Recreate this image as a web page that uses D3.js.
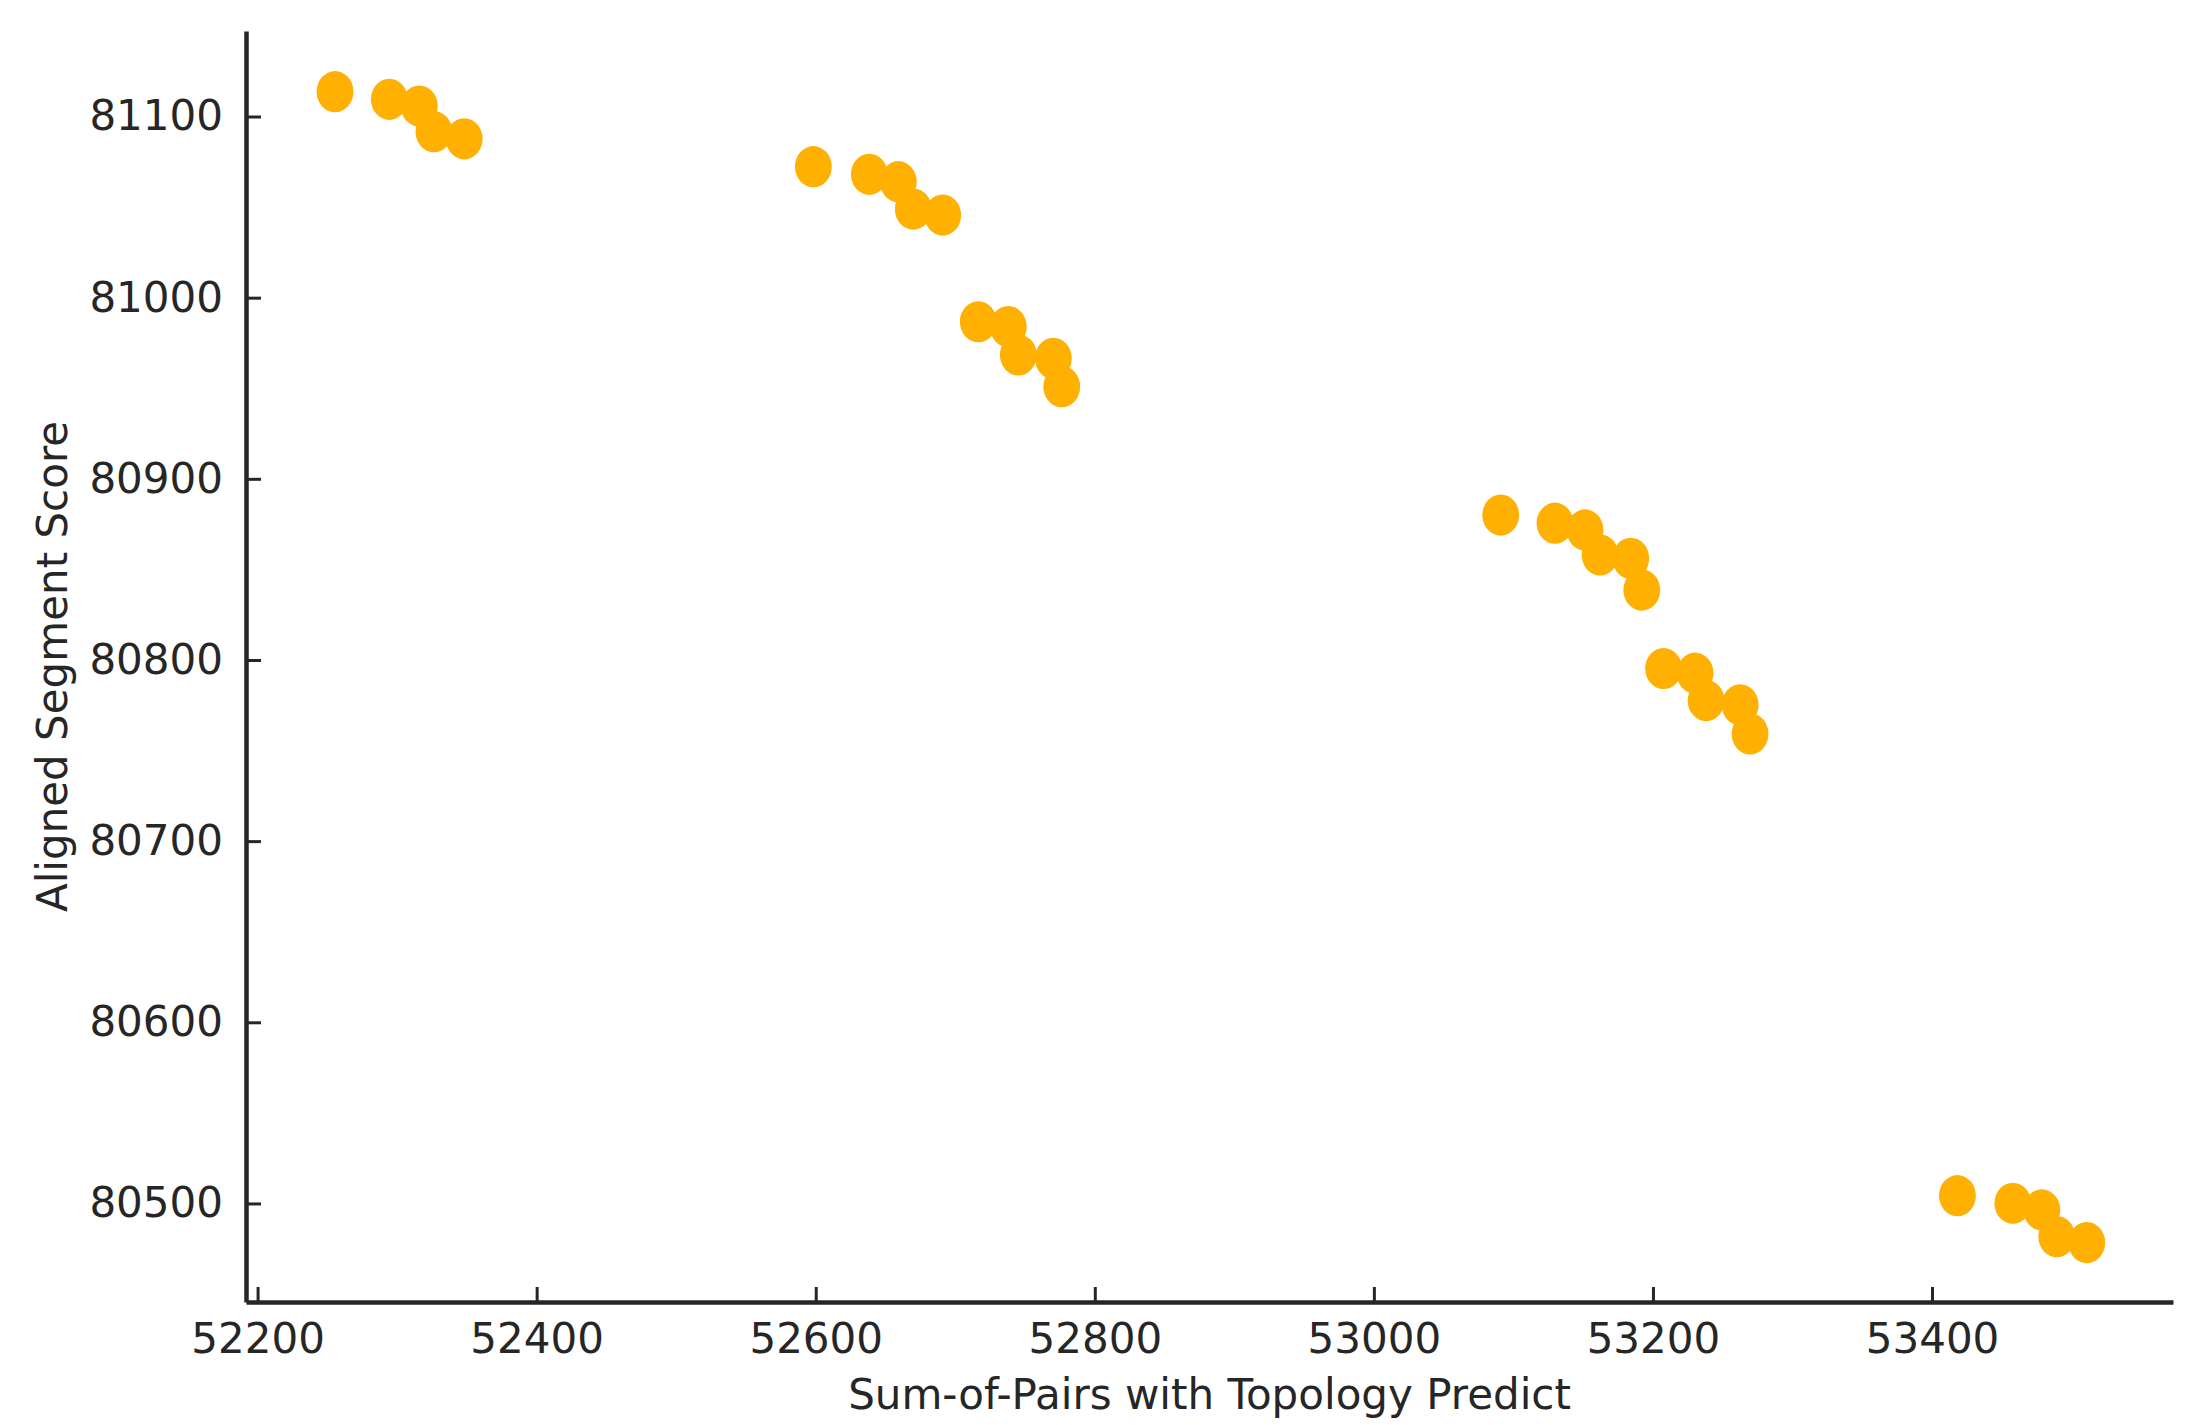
<!DOCTYPE html>
<html>
<head>
<meta charset="utf-8">
<title>Aligned Segment Score vs Sum-of-Pairs</title>
<script src="https://cdn.jsdelivr.net/npm/d3@7"></script>
<style>
  body { margin: 0; background: #fff; }
  text { font-family: "DejaVu Sans", sans-serif; fill: #262626; }
</style>
</head>
<body>
<svg id="chart" width="2196" height="1425"></svg>
<script>
// values
var sumOfPairs = [52255.5, 52294.4, 52315.9, 52326.4, 52348.1,
                  52598.3, 52638.4, 52659.2, 52669.9, 52691.0,
                  52716.5, 52738.0, 52745.2, 52770.3, 52776.3,
                  53090.9, 53129.8, 53151.3, 53162.1, 53184.1, 53192.0,
                  53207.6, 53230.2, 53238.1, 53262.5, 53269.6,
                  53418.2, 53457.9, 53478.7, 53489.4, 53510.9];
var segmentScore = [81113.7, 81109.5, 81105.8, 81091.6, 81087.7,
                    81072.3, 81068.1, 81064.0, 81048.9, 81045.6,
                    80986.7, 80984.0, 80968.4, 80966.5, 80950.9,
                    80880.0, 80875.5, 80871.8, 80858.0, 80856.1, 80838.6,
                    80795.3, 80792.7, 80777.6, 80775.2, 80759.2,
                    80504.3, 80500.1, 80496.4, 80481.7, 80478.4];
var xTicks = [52200, 52400, 52600, 52800, 53000, 53200, 53400];
var yTicks = [80500, 80600, 80700, 80800, 80900, 81000, 81100];

var plotLeft = 246, plotRight = 2173, plotTop = 31, plotBottom = 1302;
var fontSize = 42;

var svg = d3.select("#chart");

var x = d3.scaleLinear().domain([52191.7, 53572.7]).range([plotLeft, plotRight]);
var y = d3.scaleLinear().domain([80445.6, 81147.2]).range([plotBottom, plotTop]);

var points = sumOfPairs.map(function (d, i) { return { x: d, y: segmentScore[i] }; });

svg.append("g").selectAll("ellipse")
    .data(points)
    .enter().append("ellipse")
      .attr("cx", function (d) { return x(d.x); })
      .attr("cy", function (d) { return y(d.y); })
      .attr("rx", 18.4)
      .attr("ry", 20.6)
      .style("fill", "#ffb000");

// axes, ticks pointing inwards, no top/right spines
var xAxis = svg.append("g").attr("transform", "translate(0," + plotBottom + ")")
    .call(d3.axisBottom(x).tickValues(xTicks).tickSizeInner(-15).tickSizeOuter(0)
      .tickPadding(21).tickFormat(d3.format("d")));
var yAxis = svg.append("g").attr("transform", "translate(" + plotLeft + ",0)")
    .call(d3.axisLeft(y).tickValues(yTicks).tickSizeInner(-15).tickSizeOuter(0)
      .tickPadding(23).tickFormat(d3.format("d")));

[xAxis, yAxis].forEach(function (ax) {
  ax.select(".domain").attr("stroke", "#262626").attr("stroke-width", 4.5);
  ax.selectAll(".tick line").attr("stroke", "#262626").attr("stroke-width", 3);
  ax.selectAll(".tick text").style("font-size", fontSize + "px")
    .style("font-family", "DejaVu Sans").attr("fill", "#262626");
});

svg.append("text")
    .attr("x", (plotLeft + plotRight) / 2)
    .attr("y", 1394)
    .attr("text-anchor", "middle")
    .attr("dominant-baseline", "central")
    .style("font-size", fontSize + "px")
    .text("Sum-of-Pairs with Topology Predict");

svg.append("text")
    .attr("transform", "translate(52," + (plotTop + plotBottom) / 2 + ") rotate(-90)")
    .attr("text-anchor", "middle")
    .attr("dominant-baseline", "central")
    .style("font-size", fontSize + "px")
    .text("Aligned Segment Score");
</script>
</body>
</html>
